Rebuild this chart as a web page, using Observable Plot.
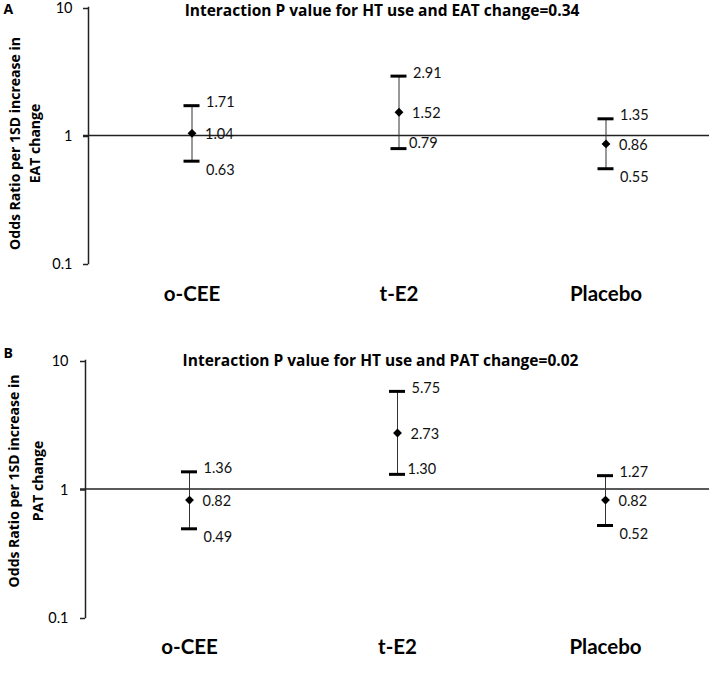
<!DOCTYPE html>
<html><head><meta charset="utf-8">
<script src="https://cdn.jsdelivr.net/npm/d3@7"></script>
<script src="https://cdn.jsdelivr.net/npm/@observablehq/plot@0.6"></script>
<style>
body{margin:0;background:#fff;}
#chart{width:709px;}
svg{display:block;}
</style></head><body><div id="chart"></div>
<script>
const groups = ["o-CEE", "t-E2", "Placebo"];
const eatOR = [1.04, 1.52, 0.86];
const eatLow = [0.63, 0.79, 0.55];
const eatHigh = [1.71, 2.91, 1.35];
const patOR = [0.82, 2.73, 0.82];
const patLow = [0.49, 1.30, 0.52];
const patHigh = [1.36, 5.75, 1.27];
const yTicks = [0.1, 1, 10];
const titles = ["Interaction P value for HT use and EAT change=0.34", "Interaction P value for HT use and PAT change=0.02"];
const yLabels = ["Odds Ratio per 1SD increase in\nEAT change", "Odds Ratio per 1SD increase in\nPAT change"];
const panelLetters = ["A", "B"];

const FONT = "Lato, 'Open Sans', sans-serif";
const BOLD = "'Open Sans', Lato, sans-serif";

function panel(or, low, high, title, ylabel, letter, L) {
  const data = groups.map((g, i) => ({g, or: or[i], low: low[i], high: high[i]}));
  const fmt = d => d.toFixed(2);
  const W = 709;
  const capInset = (W - L.left) / groups.length / 2 - 8;
  const mid = d => d.g === "t-E2";
  return Plot.plot({
    width: W, height: 340,
    marginTop: L.top, marginBottom: L.bottom, marginLeft: L.left, marginRight: 0,
    style: {fontFamily: FONT, color: "#000", background: "#fff", overflow: "visible"},
    x: {type: "band", domain: groups, padding: 0},
    y: {type: "log", domain: [0.1, 10]},
    marks: [
      Plot.frame({anchor: "left", stroke: "#222", strokeWidth: 1.5}),
      Plot.ruleY([1], {stroke: "#222", strokeWidth: 1.5, insetLeft: -5}),
      Plot.axisY({ticks: yTicks, tickFormat: d => String(d), tickSize: 5, tickPadding: L.tickPad, fontSize: 14.5, stroke: "#222", strokeWidth: 1.5, label: null, dy: 1}),
      Plot.axisX({tickSize: 0, tickPadding: L.xPad, fontSize: 20.5, fontWeight: "bold", label: null}),
      Plot.ruleX(data, {x: "g", y1: "low", y2: "high", stroke: "#333", strokeWidth: 1}),
      Plot.tickY(data, {x: "g", y: "high", insetLeft: capInset, insetRight: capInset, stroke: "#000", strokeWidth: 3}),
      Plot.tickY(data, {x: "g", y: "low", insetLeft: capInset, insetRight: capInset, stroke: "#000", strokeWidth: 3}),
      Plot.dot(data, {x: "g", y: "or", symbol: "diamond2", r: 4, fill: "#000", stroke: null}),
      Plot.text(data, {x: "g", y: "high", text: d => fmt(d.high), dx: 14, dy: -3, textAnchor: "start", fontSize: 14.5, fill: "#111"}),
      Plot.text(data, {x: "g", y: "or", text: d => fmt(d.or), dx: 13, dy: 1, textAnchor: "start", fontSize: 14.5, fill: "#111"}),
      Plot.text(data.filter(d => !mid(d)), {x: "g", y: "low", text: d => fmt(d.low), dx: 14, dy: 9, textAnchor: "start", fontSize: 14.5, fill: "#111"}),
      Plot.text(data.filter(mid), {x: "g", y: "low", text: d => fmt(d.low), dx: 10, dy: -5, textAnchor: "start", fontSize: 14.5, fill: "#111"}),
      Plot.text([title], {frameAnchor: "top", text: d => d, dx: -17, dy: L.titleDy, lineAnchor: "middle", fontSize: 15.5, fontWeight: "bold", fontFamily: BOLD, fill: "#000"}),
      Plot.text([letter], {frameAnchor: "top-left", text: d => d, dx: 3 - L.left, dy: L.letterDy, textAnchor: "start", lineAnchor: "middle", fontSize: 14, fontWeight: "bold", fontFamily: BOLD, fill: "#000"}),
      Plot.text([ylabel], {frameAnchor: "left", text: d => d, rotate: -90, dx: 23 - L.left, dy: L.yLabDy, lineHeight: L.lineH, textAnchor: "middle", lineAnchor: "middle", fontSize: 14, fontWeight: "bold", fontFamily: BOLD, fill: "#000"})
    ]
  });
}

const chart = document.getElementById("chart");
chart.append(panel(eatOR, eatLow, eatHigh, titles[0], yLabels[0], panelLetters[0],
  {top: 7, bottom: 77, left: 88, tickPad: 11, xPad: 23, titleDy: 3.5, letterDy: 2.5, yLabDy: 8, lineH: 1.4}));
chart.append(panel(patOR, patLow, patHigh, titles[1], yLabels[1], panelLetters[1],
  {top: 20, bottom: 63, left: 85, tickPad: 12, xPad: 22, titleDy: 1, letterDy: -6.5, yLabDy: -8, lineH: 1.7}));
</script></body></html>
